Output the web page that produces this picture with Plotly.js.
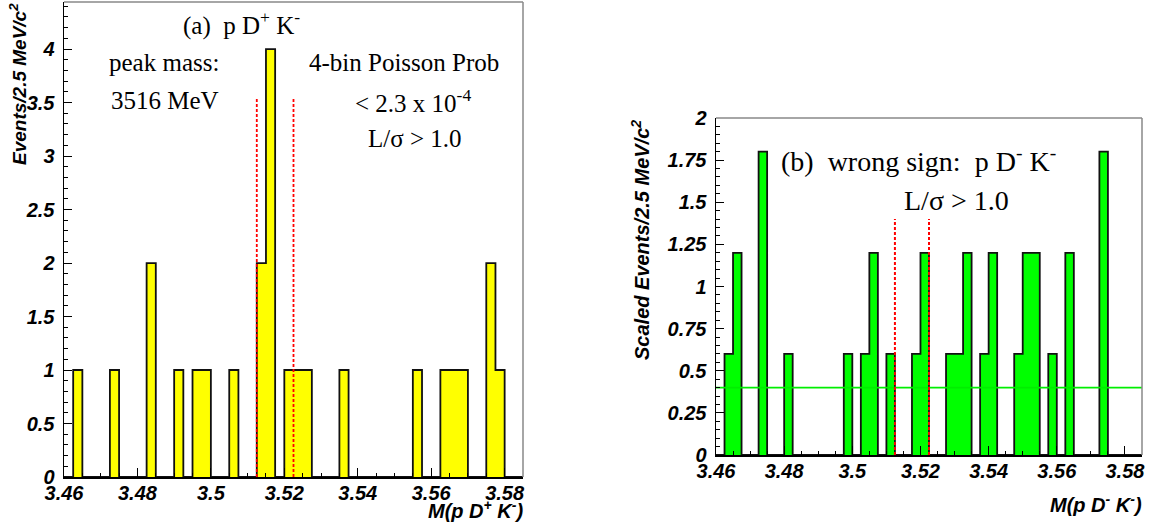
<!DOCTYPE html>
<html>
<head>
<meta charset="utf-8">
<script src="https://cdn.plot.ly/plotly-3.0.1.min.js"></script>
<style>
html,body{margin:0;padding:0;background:#fff;}
#chart{width:1151px;height:522px;}
#chart g[class$="tick"] text{font-style:italic !important;font-weight:bold !important;}
</style>
</head>
<body>
<div id="chart"></div>
<script>
// ---- data ----
const xMin = 3.46;
const xMax = 3.585;
const binWidth = 0.0025;
// (a) p D+ K-  : events per 2.5 MeV bin (50 bins from 3.46)
const countsA = [0,1,0,0,0,1,0,0,0,2, 0,0,1,0,1,1,0,0,1,0, 0,2,4,0,1,1,1,0,0,0, 1,0,0,0,0,0,0,0,1,0, 0,1,1,1,0,0,2,1,0,0];
// (b) wrong sign p D- K- : scaled events per bin
const countsB = [0,0.6,1.2,0,0,1.8,0,0,0.6,0, 0,0,0,0,0,0.6,0,0.6,1.2,0, 0.6,0,0,0.6,1.2,0,0,0.6,0.6,1.2, 0,0.6,1.2,0,0,0.6,1.2,1.2,0,0.6, 0,1.2,0,0,0,1.8,0,0,0,0];
const signalWindow = [3.5125, 3.5225];
const windowTopA = 3.55;
const windowTopB = 1.4;
const bkgLevelB = 0.4;
const xTickVals = [3.46, 3.48, 3.5, 3.52, 3.54, 3.56, 3.58];
const xTickText = ["3.46", "3.48", "3.5", "3.52", "3.54", "3.56", "3.58"];
const yTickValsA = [0, 0.5, 1, 1.5, 2, 2.5, 3, 3.5, 4];
const yTickTextA = ["0", "0.5", "1", "1.5", "2", "2.5", "3", "3.5", "4"];
const yTickValsB = [0, 0.25, 0.5, 0.75, 1, 1.25, 1.5, 1.75, 2];
const yTickTextB = ["0", "0.25", "0.5", "0.75", "1", "1.25", "1.5", "1.75", "2"];
const yMaxA = 4.44;
const yMaxB = 2;

// ---- helpers ----
const W = 1151, H = 522;
const px = v => v / W;
const py = v => 1 - v / H;

function stepXY(counts) {
  const xs = [], ys = [];
  for (let i = 0; i < counts.length; i++) { xs.push(xMin + i * binWidth); ys.push(counts[i]); }
  xs.push(xMin + counts.length * binWidth); ys.push(counts[counts.length - 1]);
  return {xs, ys};
}
function windowLines(top) {
  return {x: [signalWindow[0], signalWindow[0], null, signalWindow[1], signalWindow[1]],
          y: [0, top, null, 0, top]};
}

const sA = stepXY(countsA), sB = stepXY(countsB);
const wA = windowLines(windowTopA), wB = windowLines(windowTopB);

const traces = [
  {x: sA.xs, y: sA.ys, type: 'scatter', mode: 'lines', line: {shape: 'hv', color: '#111', width: 1.8},
   fill: 'tozeroy', fillcolor: '#ffff00', xaxis: 'x', yaxis: 'y', hoverinfo: 'skip'},
  {x: wA.x, y: wA.y, type: 'scatter', mode: 'lines', line: {color: '#ff0000', width: 1.8, dash: '3px,2px'},
   xaxis: 'x', yaxis: 'y', hoverinfo: 'skip'},
  {x: sB.xs, y: sB.ys, type: 'scatter', mode: 'lines', line: {shape: 'hv', color: '#111', width: 1.8},
   fill: 'tozeroy', fillcolor: '#00ff00', xaxis: 'x2', yaxis: 'y2', hoverinfo: 'skip'},
  {x: [xMin, xMax], y: [bkgLevelB, bkgLevelB], type: 'scatter', mode: 'lines', line: {color: '#00ee00', width: 1.6},
   xaxis: 'x2', yaxis: 'y2', hoverinfo: 'skip'},
  {x: wB.x, y: wB.y, type: 'scatter', mode: 'lines', line: {color: '#ff0000', width: 2, dash: '3px,2px'},
   xaxis: 'x2', yaxis: 'y2', hoverinfo: 'skip'}
];

const tickFont = {family: 'Liberation Sans, Arial, sans-serif', size: 20, weight: 'bold', style: 'italic', color: '#000'};
const titleFont = sz => ({family: 'Liberation Sans, Arial, sans-serif', size: sz, weight: 'bold', style: 'italic', color: '#000'});
const serif = size => ({family: 'Liberation Serif, Times New Roman, serif', size: size, color: '#000'});

function xAxis(domain, anchor) {
  return {domain, anchor, range: [xMin, xMax], showline: true, linecolor: '#000', linewidth: 1.5,
    ticks: 'inside', ticklen: 9, tickwidth: 1, tickcolor: '#000', tickmode: 'array',
    tickvals: xTickVals, ticktext: xTickText, tickfont: tickFont, ticklabelstandoff: -3,
    showgrid: false, zeroline: false, automargin: false, fixedrange: true,
    minor: {ticks: 'inside', ticklen: 4, tickcolor: '#000', tickmode: 'linear', tick0: xMin, dtick: 0.005, showgrid: false}};
}
function yAxis(domain, anchor, range, vals, text, minorDt) {
  return {domain, anchor, range, showline: true, linecolor: '#000', linewidth: 1.5,
    ticks: 'inside', ticklen: 8, tickwidth: 1, tickcolor: '#000', tickmode: 'array',
    tickvals: vals, ticktext: text, tickfont: tickFont, ticklabelstandoff: 4,
    showgrid: false, zeroline: false, automargin: false, fixedrange: true,
    minor: {ticks: 'inside', ticklen: 4, tickcolor: '#000', tickmode: 'linear', tick0: 0, dtick: minorDt, showgrid: false}};
}

const frameLines = (xr, yr) => [
  {type: 'line', xref: xr + ' domain', yref: yr + ' domain', x0: 0, x1: 1, y0: 1, y1: 1, line: {color: '#888', width: 1.5}},
  {type: 'line', xref: xr + ' domain', yref: yr + ' domain', x0: 1, x1: 1, y0: 0, y1: 1, line: {color: '#888', width: 1.5}}
];

const ann = (text, x, y, font, extra) => Object.assign({text, x: px(x), y: py(y), xref: 'paper', yref: 'paper',
  showarrow: false, xanchor: 'center', yanchor: 'middle', font}, extra || {});

const layout = {
  width: W, height: H, margin: {l: 0, r: 0, t: 0, b: 0},
  paper_bgcolor: '#fff', plot_bgcolor: '#fff', showlegend: false,
  xaxis: xAxis([px(64), px(523)], 'y'),
  yaxis: yAxis([1 - 477 / H, 1 - 2 / H], 'x', [0, yMaxA], yTickValsA, yTickTextA, 0.1),
  xaxis2: xAxis([px(716), px(1142)], 'y2'),
  yaxis2: yAxis([1 - 455 / H, 1 - 118 / H], 'x2', [0, yMaxB], yTickValsB, yTickTextB, 0.05),
  shapes: frameLines('x', 'y').concat(frameLines('x2', 'y2')),
  annotations: [
    ann('(a)\u00a0\u00a0p D<sup>+</sup> K<sup>-</sup>', 241, 24, serif(25)),
    ann('peak mass:', 164, 62, serif(25)),
    ann('3516 MeV', 165, 100, serif(25)),
    ann('4-bin Poisson Prob', 404, 62, serif(25)),
    ann('&lt; 2.3 x 10<sup>-4</sup>', 413, 101, serif(25)),
    ann('L/\u03c3 &gt; 1.0', 415, 138, serif(25)),
    ann('(b)\u00a0\u00a0wrong sign:\u00a0\u00a0p D<sup>-</sup> K<sup>-</sup>', 918, 159, serif(28)),
    ann('L/\u03c3 &gt; 1.0', 956, 200, serif(28)),
    ann('Events/2.5 MeV/c<sup>2</sup>', 18, 1, titleFont(19), {textangle: -90, yanchor: 'top'}),
    ann('Scaled Events/2.5 MeV/c<sup>2</sup>', 640, 118, titleFont(20), {textangle: -90, yanchor: 'top'}),
    ann('M(p D<sup>+</sup> K<sup>-</sup>)', 525, 509, titleFont(20), {xanchor: 'right'}),
    ann('M(p D<sup>-</sup> K<sup>-</sup>)', 1144, 503, titleFont(20), {xanchor: 'right'})
  ]
};

Plotly.newPlot('chart', traces, layout, {staticPlot: true, displayModeBar: false});
</script>
</body>
</html>
